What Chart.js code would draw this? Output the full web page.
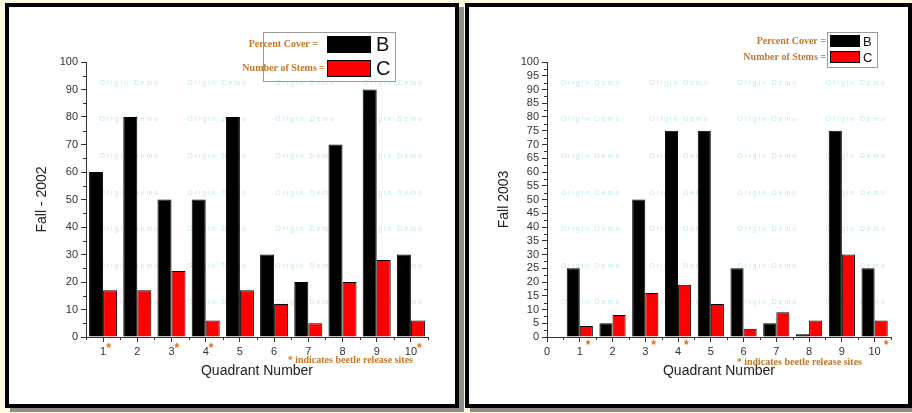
<!DOCTYPE html>
<html>
<head>
<meta charset="utf-8">
<script src="https://cdn.jsdelivr.net/npm/chart.js@4.4.1/dist/chart.umd.min.js"></script>
<style>
  body { margin: 0; width: 912px; height: 413px; overflow: hidden; position: relative; background: #fffbe2; }
  .frame { position: absolute; top: 3px; height: 397px; border: 4px solid #000; background: #fff; box-shadow: 5px 4px 0 #8e8e86; }
  #frame1 { left: 5px; width: 446px; }
  #frame2 { left: 465px; width: 439px; }
  canvas { position: absolute; top: 0; }
</style>
</head>
<body>
<div class="frame" id="frame1"></div>
<div class="frame" id="frame2"></div>
<canvas id="chart2002" width="460" height="413" style="left:0"></canvas>
<canvas id="chart2003" width="452" height="413" style="left:460px"></canvas>
<script>
// data
const quadrants = ["1", "2", "3", "4", "5", "6", "7", "8", "9", "10"];
const releaseSites = ["1", "3", "4", "10"];
const seriesNames = ["B", "C"];
const legendLabels = ["Percent Cover =", "Number of Stems ="];
const cover2002 = [60, 80, 50, 50, 80, 30, 20, 70, 90, 30];
const stems2002 = [17, 17, 24, 6, 17, 12, 5, 20, 28, 6];
const cover2003 = [25, 5, 50, 75, 75, 25, 5, 1, 75, 25];
const stems2003 = [4, 8, 16, 19, 12, 3, 9, 6, 30, 6];

const seriesColors = ["#000000", "#ff0000"];
const orange = "#c4782a";
const axisColor = "#333";

Chart.defaults.font.family = "'Liberation Sans', Arial, sans-serif";
Chart.defaults.color = "#333";

// watermark, minor ticks, legend, stars, note
const originDecor = {
  id: "originDecor",
  beforeDatasetsDraw(chart) {
    const { ctx, chartArea: a } = chart;
    ctx.save();
    ctx.font = "7px 'Liberation Sans'";
    ctx.fillStyle = "rgba(110, 205, 212, 0.45)";
    ctx.textAlign = "center";
    ctx.textBaseline = "middle";
    for (let c = 0; c < 4; c++) {
      for (let r = 0; r < 7; r++) {
        ctx.fillText("O r i g i n   D e m o", a.left + a.width * (0.125 + 0.257 * c), a.top + a.height * (0.076 + 0.133 * r));
      }
    }
    ctx.restore();
  },
  afterDraw(chart, args, opts) {
    const { ctx, chartArea: a } = chart;
    const x = chart.scales.x, y = chart.scales.y;
    ctx.save();

    // minor ticks
    ctx.strokeStyle = axisColor;
    ctx.lineWidth = 1;
    ctx.beginPath();
    opts.minorY.forEach((v) => {
      const py = Math.round(y.getPixelForValue(v)) + 0.5;
      ctx.moveTo(a.left - 3, py);
      ctx.lineTo(a.left, py);
    });
    opts.minorX.forEach((v) => {
      const px = Math.round(x.getPixelForValue(v)) + 0.5;
      ctx.moveTo(px, a.bottom);
      ctx.lineTo(px, a.bottom + 3);
    });
    ctx.stroke();

    // stars next to release-site labels
    ctx.fillStyle = "#e06a1a";
    ctx.textAlign = "left";
    ctx.textBaseline = "top";
    releaseSites.forEach((q) => {
      const v = x.type === "category" ? quadrants.indexOf(q) : Number(q);
      ctx.font = "11px 'Liberation Sans'";
      const half = ctx.measureText(q).width / 2;
      ctx.font = "bold 12px 'Liberation Sans'";
      ctx.fillText("*", x.getPixelForValue(v) + half + opts.starDx, a.bottom + opts.starDy);
    });

    // note
    ctx.font = "bold 10px 'Liberation Serif'";
    ctx.fillStyle = orange;
    ctx.textAlign = "right";
    ctx.textBaseline = "middle";
    ctx.fillText("* indicates beetle release sites", opts.note[0], opts.note[1]);

    // legend
    const L = opts.legend;
    ctx.strokeStyle = "#9a9a9a";
    ctx.strokeRect(L.box[0] + 0.5, L.box[1] + 0.5, L.box[2], L.box[3]);
    seriesNames.forEach((name, i) => {
      const sy = L.rows[i];
      ctx.fillStyle = seriesColors[i];
      ctx.fillRect(L.swatch[0], sy, L.swatch[1], L.swatch[2]);
      ctx.strokeStyle = "#000";
      ctx.strokeRect(L.swatch[0] + 0.5, sy + 0.5, L.swatch[1] - 1, L.swatch[2] - 1);
      const cy = sy + L.swatch[2] / 2;
      ctx.fillStyle = "#111";
      ctx.font = L.letterFont + "px 'Liberation Sans'";
      ctx.textAlign = "left";
      ctx.fillText(name, L.letterX, cy + 1);
      ctx.fillStyle = orange;
      ctx.font = "bold 10px 'Liberation Serif'";
      ctx.textAlign = "right";
      ctx.fillText(legendLabels[i], L.labelX[i], cy);
    });
    ctx.restore();
  },
};

function halfSteps(from, to, step) {
  const out = [];
  for (let v = from; v <= to + 1e-9; v += step) out.push(v);
  return out;
}

function baseScales(yStep, yWidth, xHeight) {
  return {
    y: {
      min: 0,
      max: 100,
      afterFit: (s) => { s.width = yWidth; },
      border: { display: true, color: axisColor, width: 1 },
      grid: { drawOnChartArea: false, drawTicks: true, tickLength: 5, color: axisColor },
      ticks: { stepSize: yStep, autoSkip: false, padding: 3, font: { size: 11 }, color: "#333" },
      title: { display: true, font: { size: 14 }, color: "#222", padding: 4 },
    },
    x: {
      afterFit: (s) => { s.height = xHeight; },
      border: { display: true, color: axisColor, width: 1 },
      grid: { drawOnChartArea: false, drawTicks: true, tickLength: 5, color: axisColor, offset: false },
      ticks: { autoSkip: false, maxRotation: 0, padding: 3, font: { size: 11 }, color: "#333" },
      title: { display: true, text: "Quadrant Number", font: { size: 14 }, color: "#222", padding: 4 },
    },
  };
}

// Fall 2002
const scales02 = baseScales(10, 56, 47);
scales02.y.title.text = "Fall - 2002";
const chart02 = new Chart(document.getElementById("chart2002"), {
  type: "bar",
  data: {
    labels: quadrants,
    datasets: [
      { label: seriesNames[0], data: cover2002, backgroundColor: seriesColors[0], borderColor: "#000", borderWidth: 1 },
      { label: seriesNames[1], data: stems2002, backgroundColor: seriesColors[1], borderColor: "#000", borderWidth: 1 },
    ],
  },
  options: {
    responsive: false,
    animation: false,
    layout: { padding: { left: 30, right: 32, top: 62, bottom: 29 } },
    datasets: { bar: { categoryPercentage: 0.82, barPercentage: 1 } },
    scales: scales02,
    plugins: {
      legend: { display: false },
      tooltip: { enabled: false },
      originDecor: {
        minorY: halfSteps(5, 95, 10),
        minorX: halfSteps(-0.5, 9.5, 1),
        starDx: 0,
        starDy: 6,
        note: [413, 360],
        legend: { box: [263, 32, 132, 49], swatch: [327, 44, 17], rows: [36, 60], letterX: 376, letterFont: 20, labelX: [318, 325] },
      },
    },
  },
  plugins: [originDecor],
});

// Fall 2003
const scales03 = baseScales(5, 55, 47);
scales03.y.title.text = "Fall 2003";
scales03.x.type = "linear";
scales03.x.offset = false;
scales03.x.min = 0;
scales03.x.max = 10.5;
scales03.x.ticks.stepSize = 1;
scales03.x.ticks.includeBounds = false;
const chart03 = new Chart(document.getElementById("chart2003"), {
  type: "bar",
  data: {
    datasets: [
      { label: seriesNames[0], data: quadrants.map((q, i) => ({ x: Number(q), y: cover2003[i] })), backgroundColor: seriesColors[0], borderColor: "#000", borderWidth: 1 },
      { label: seriesNames[1], data: quadrants.map((q, i) => ({ x: Number(q), y: stems2003[i] })), backgroundColor: seriesColors[1], borderColor: "#000", borderWidth: 1 },
    ],
  },
  options: {
    responsive: false,
    animation: false,
    layout: { padding: { left: 32, right: 21, top: 62, bottom: 29 } },
    datasets: { bar: { categoryPercentage: 0.8, barPercentage: 1 } },
    scales: scales03,
    plugins: {
      legend: { display: false },
      tooltip: { enabled: false },
      originDecor: {
        minorY: halfSteps(2.5, 97.5, 5),
        minorX: halfSteps(0.5, 10.5, 1),
        starDx: 3,
        starDy: 3,
        note: [402, 362],
        legend: { box: [367, 32, 50, 35], swatch: [370, 30, 12], rows: [35, 51], letterX: 403, letterFont: 13, labelX: [366, 366] },
      },
    },
  },
  plugins: [originDecor],
});
</script>
</body>
</html>
